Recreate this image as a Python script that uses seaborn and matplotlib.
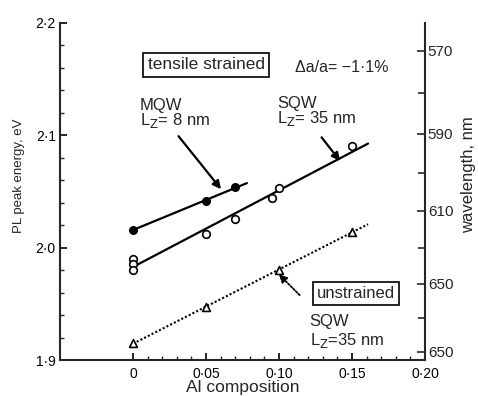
import numpy as np
import pandas as pd
import matplotlib
matplotlib.use("Agg")
import matplotlib.pyplot as plt
from matplotlib.ticker import FixedLocator, NullFormatter
import seaborn as sns

# Measured PL peak energies (eV) versus Al composition
mqw_x = [0.0, 0.05, 0.07]
mqw_e = [2.016, 2.041, 2.054]

sqw_x = [0.0, 0.0, 0.0, 0.05, 0.07, 0.095, 0.10, 0.15]
sqw_e = [1.990, 1.985, 1.980, 2.012, 2.025, 2.044, 2.053, 2.090]

unstr_x = [0.0, 0.05, 0.10, 0.15]
unstr_e = [1.915, 1.947, 1.980, 2.014]

# x-range covered by each fitted line
mqw_fit_range = [0.0, 0.078]
sqw_fit_range = [0.0, 0.161]
unstr_fit_range = [0.0, 0.161]

x_ticks = [0.0, 0.05, 0.10, 0.15, 0.20]
x_tick_labels = ["0", "0·05", "0·10", "0·15", "0·20"]
y_ticks = [1.9, 2.0, 2.1, 2.2]
y_tick_labels = ["1·9", "2·0", "2·1", "2·2"]
wl_ticks = [570, 590, 610, 630, 650]
wl_tick_labels = ["570", "590", "610", "650", "650"]
wl_minor = [580, 600, 620, 640]

HC = 1239.84  # eV nm

sns.set_style("ticks")
plt.rcParams["font.family"] = ["Liberation Sans", "DejaVu Sans"]
plt.rcParams["font.size"] = 10

fig = plt.figure(figsize=(4.78, 3.96), dpi=100)
ax = fig.add_axes([60 / 478, 1 - 360 / 396, 365 / 478, (360 - 22.7) / 396])


def fit_line(xs, ys, rng):
    k, b = np.polyfit(xs, ys, 1)
    xx = np.array(rng)
    return pd.DataFrame({"x": xx, "y": k * xx + b})


mqw_line = fit_line(mqw_x, mqw_e, mqw_fit_range)
sqw_line = fit_line(sqw_x, sqw_e, sqw_fit_range)
unstr_line = fit_line(unstr_x, unstr_e, unstr_fit_range)

sns.lineplot(data=mqw_line, x="x", y="y", ax=ax, color="black", lw=1.6)
sns.lineplot(data=sqw_line, x="x", y="y", ax=ax, color="black", lw=1.6)
sns.lineplot(data=unstr_line, x="x", y="y", ax=ax, color="black", lw=1.5,
             linestyle=(0, (1, 1)))

sns.scatterplot(x=mqw_x, y=mqw_e, ax=ax, marker="o", s=30, color="black",
                edgecolor="black", linewidth=1, zorder=3)
sns.scatterplot(x=sqw_x, y=sqw_e, ax=ax, marker="o", s=30, facecolor="white",
                edgecolor="black", linewidth=1.2, zorder=3)
sns.scatterplot(x=unstr_x, y=unstr_e, ax=ax, marker="^", s=32, facecolor="white",
                edgecolor="black", linewidth=1.2, zorder=3)

ax.set_xlim(-0.05, 0.20)
ax.set_ylim(1.9, 2.2)
ax.xaxis.set_major_locator(FixedLocator(x_ticks))
ax.set_xticklabels(x_tick_labels)
ax.xaxis.set_minor_locator(FixedLocator([i / 100 for i in range(1, 20) if i % 5]))
ax.yaxis.set_major_locator(FixedLocator(y_ticks))
ax.set_yticklabels(y_tick_labels)
ax.yaxis.set_minor_locator(FixedLocator([1.92, 1.94, 1.96, 1.98, 2.02, 2.04,
                                         2.06, 2.08, 2.12, 2.14, 2.16, 2.18]))
ax.tick_params(which="major", direction="in", length=5, width=1.2,
               labelsize=10, colors="black")
ax.tick_params(which="minor", direction="in", length=3, width=1.0)
ax.tick_params(axis="x", pad=5)
ax.tick_params(axis="y", pad=3)
for s in ["top", "right"]:
    ax.spines[s].set_visible(False)
for s in ["left", "bottom"]:
    ax.spines[s].set_linewidth(1.5)
ax.set_xlabel("Al composition", fontsize=12.5)
ax.xaxis.label.set_va("baseline")
ax.xaxis.set_label_coords(0.5, -0.095)
ax.set_ylabel("PL peak energy, eV", fontsize=9.5)
ax.yaxis.set_label_coords(-0.096, 0.545)

# wavelength scale on the right
ax2 = ax.twinx()
ax2.set_ylim(ax.get_ylim())
ax2.yaxis.set_major_locator(FixedLocator([HC / w for w in wl_ticks]))
ax2.set_yticklabels(wl_tick_labels)
ax2.yaxis.set_minor_locator(FixedLocator([HC / w for w in wl_minor]))
ax2.yaxis.set_minor_formatter(NullFormatter())
ax2.tick_params(which="major", direction="in", length=6, width=1.2,
                labelsize=11, pad=2)
ax2.tick_params(which="minor", direction="in", length=5, width=1.2)
for s in ["top", "left", "bottom"]:
    ax2.spines[s].set_visible(False)
ax2.spines["right"].set_linewidth(1.5)
ax2.set_ylabel("wavelength, nm", fontsize=12)
ax2.yaxis.set_label_coords(1.1, 0.55)

# annotations
ax.text(0.0502, 2.1624, "tensile strained", ha="center", va="center", fontsize=12.5,
        bbox=dict(boxstyle="square,pad=0.25", fc="white", ec="black", lw=1.2))
ax.text(0.111, 2.1598, "Δa/a= −1·1%", ha="left", va="center", fontsize=11.5)

ax.text(0.0045, 2.119, "MQW\nL$_{\\rm Z}$= 8 nm", ha="left", va="center",
        fontsize=12, linespacing=0.85)
ax.annotate("", xy=(0.0615, 2.05), xytext=(0.030, 2.101),
            arrowprops=dict(arrowstyle="-|>", color="black", lw=1.6,
                            mutation_scale=12))

ax.text(0.0985, 2.1206, "SQW\nL$_{\\rm Z}$= 35 nm", ha="left", va="center",
        fontsize=12, linespacing=0.85)
ax.annotate("", xy=(0.143, 2.075), xytext=(0.128, 2.1),
            arrowprops=dict(arrowstyle="-|>", color="black", lw=1.6,
                            mutation_scale=12))

ax.text(0.1528, 1.9593, "unstrained", ha="center", va="center", fontsize=12,
        bbox=dict(boxstyle="square,pad=0.25", fc="white", ec="black", lw=1.2))
ax.annotate("", xy=(0.0985, 1.978), xytext=(0.1155, 1.956),
            arrowprops=dict(arrowstyle="-|>", color="black", lw=1.3,
                            linestyle=(0, (1, 1)), mutation_scale=12))

ax.text(0.121, 1.925, "SQW\nL$_{\\rm Z}$=35 nm", ha="left", va="center",
        fontsize=12, linespacing=1.1)

fig.savefig("out.png", dpi=100)
